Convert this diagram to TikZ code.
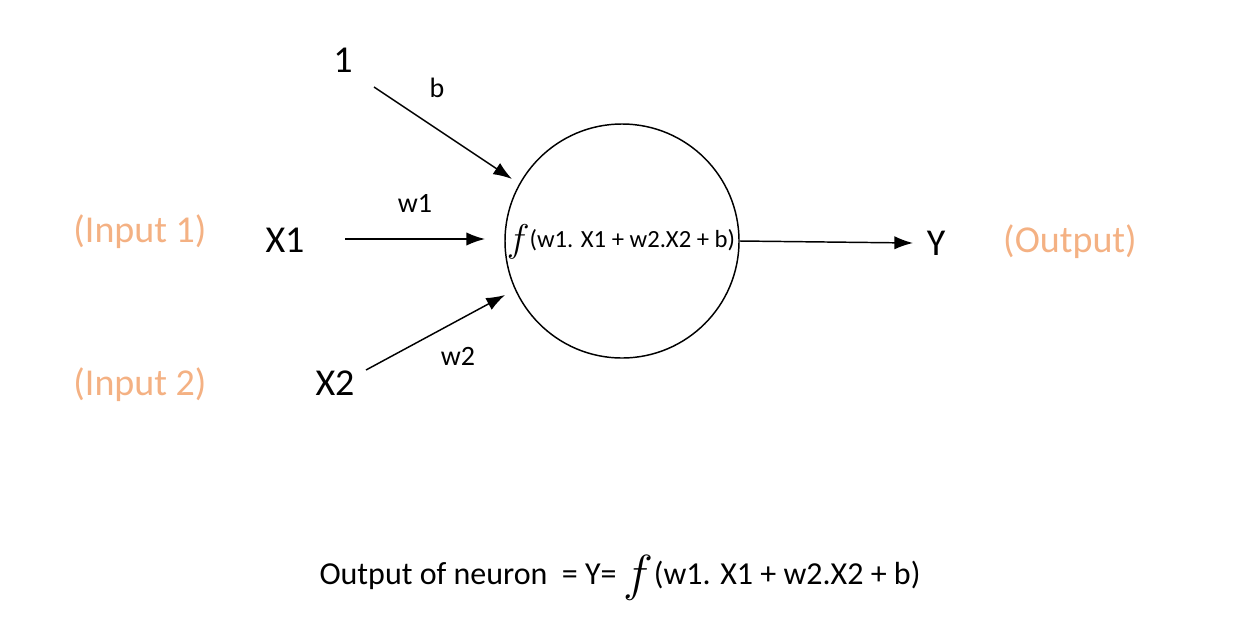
\documentclass[tikz,border=0pt]{standalone}
\usepackage{fix-cm}
\usepackage{fontspec}
\setmainfont{Carlito}
\usetikzlibrary{arrows.meta}
\definecolor{peach}{RGB}{244,177,131}
\tikzset{
  lbl/.style={inner sep=0pt, font=\fontsize{28.5}{32}\selectfont},
  inlbl/.style={inner sep=0pt, text=peach, font=\fontsize{28.5}{32}\selectfont},
  wlbl/.style={inner sep=0pt, font=\fontsize{21}{24}\selectfont},
  conn/.style={line width=1.1pt, -{Latex[length=14pt,width=10pt]}},
}
\begin{document}
\begin{tikzpicture}[x=0.75pt,y=-0.75pt]
\useasboundingbox (0,0) rectangle (1234,636);
% neuron
\node[circle, draw, line width=1.1pt, minimum size=175.5pt, inner sep=0pt] (n) at (622,241) {};
\node[inner sep=0pt, font=\fontsize{18.5}{20}\selectfont] (fx) at (621,242) {\raisebox{-3pt}{\fontsize{29}{32}\selectfont$f$}(w1. X1 + w2.X2 + b)};
% inputs
\node[lbl] (one) at (343,60) {1};
\node[lbl] (x1) at (285,240) {X1};
\node[lbl] (x2) at (335,383) {X2};
\node[lbl] (y) at (936,243) {Y};
\node[inlbl] (in1) at (140,232) {(Input 1)};
\node[inlbl] (in2) at (140,385) {(Input 2)};
\node[inlbl] (out) at (1070,242) {(Output)};
% weights
\node[wlbl] (b) at (437,88) {b};
\node[wlbl] (w1) at (415,203) {w1};
\node[wlbl] (w2) at (458,356) {w2};
% connector ends
\coordinate (s1) at (374,87);
\coordinate (e1) at (512,179);
\coordinate (sx1) at (345,239);
\coordinate (ex1) at (485,239);
\coordinate (sx2) at (366,370);
\coordinate (ex2) at (505,295);
\coordinate (ey) at (913,243);
\draw[conn] (s1) -- (e1);
\draw[conn] (sx1) -- (ex1);
\draw[conn] (sx2) -- (ex2);
\draw[conn] (n.east) -- (ey);
% bottom formula
\node[inner sep=0pt, font=\fontsize{24}{30}\selectfont] (eq) at (620,578) {Output of neuron\ \ = Y=\ \raisebox{-5pt}{\fontsize{38}{42}\selectfont$f$}(w1. X1 + w2.X2 + b)};
\end{tikzpicture}
\end{document}
